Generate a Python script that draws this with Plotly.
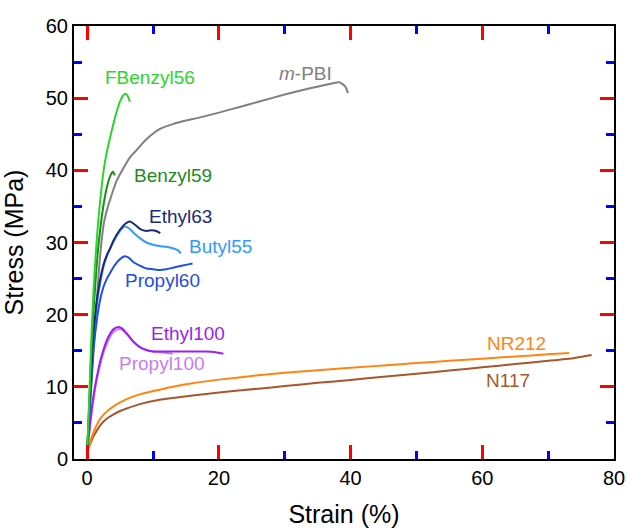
import plotly.graph_objects as go

# ---- data ----
fbenzyl56_x = [0, 0.3, 0.6, 1.0, 1.5, 2.0, 2.5, 3.0, 3.5, 4.0, 4.5, 5.0, 5.5, 5.8, 6.1, 6.5]
fbenzyl56_y = [1, 8, 16, 24, 31, 36, 40, 42.6, 44.6, 46.5, 48.2, 49.6, 50.4, 50.6, 50.4, 49.5]

benzyl59_x = [0, 0.3, 0.6, 1.0, 1.5, 2.0, 2.5, 3.0, 3.5, 3.9, 4.2]
benzyl59_y = [1, 7.5, 14, 21, 27.5, 32, 35.3, 37.7, 39.2, 39.8, 39.3]

mpbi_x = [0, 0.5, 1, 1.5, 2, 2.5, 3, 3.5, 4.5, 5.5, 6.5, 7.5, 9, 11, 13, 15, 17, 20, 23, 26,
          30, 34, 37, 38.3, 39.2, 39.6]
mpbi_y = [1, 8, 15.5, 22.5, 28.5, 32.5, 34.5, 36, 38.6, 40.3, 41.8, 42.8, 44.3, 45.7, 46.4, 46.9,
          47.3, 48.0, 48.75, 49.5, 50.5, 51.4, 52.0, 52.2, 51.6, 50.7]

ethyl63_x = [0, 0.4, 0.9, 1.4, 1.9, 2.5, 3.0, 3.5, 4.0, 5.0, 5.8, 6.5, 7.2, 8.0, 9.0, 9.8, 10.5, 11.1]
ethyl63_y = [1, 8, 16.5, 21.5, 24.5, 27, 28.3, 29.2, 30.3, 31.8, 32.6, 32.9, 32.5, 31.9, 31.6, 31.7, 31.6, 31.3]

butyl55_x = [0, 0.4, 0.9, 1.4, 2.0, 2.5, 3.0, 3.5, 4.0, 5.0, 5.7, 6.3, 7.0, 8.0, 9.0, 10.0, 11.0,
             12.0, 13.0, 13.8, 14.2]
butyl55_y = [1, 8, 16, 21, 24.5, 26.7, 28.1, 29.2, 30.1, 31.6, 32.2, 32.0, 31.4, 30.6, 30.0, 29.7,
             29.5, 29.4, 29.2, 28.9, 28.5]

propyl60_x = [0, 0.5, 1, 1.5, 2, 2.5, 3, 3.5, 4, 5, 5.7, 6.3, 7, 8, 9, 10, 11, 12, 13, 14, 15, 16]
propyl60_y = [1, 9, 15.5, 19.5, 22.2, 23.9, 25, 25.8, 26.6, 27.7, 28.1, 27.9, 27.3, 26.8, 26.4,
              26.3, 26.2, 26.3, 26.5, 26.7, 26.9, 27.1]

ethyl100_x = [0, 0.5, 1, 1.5, 2, 2.5, 3, 3.5, 4, 4.7, 5.3, 6, 7, 8, 9, 10, 12, 14, 16, 18, 19.5, 20.7]
ethyl100_y = [1, 5.5, 9, 11.5, 13.6, 15.2, 16.5, 17.4, 18.0, 18.3, 18.1, 17.4, 16.3, 15.5, 15.1,
              14.9, 14.9, 14.9, 14.9, 14.9, 14.8, 14.6]

propyl100_x = [0, 0.5, 1, 1.5, 2, 2.5, 3, 3.5, 4, 4.8, 5.5, 6.2, 7, 8, 9, 10, 11, 12, 13]
propyl100_y = [1, 5, 8.5, 11.2, 13.2, 14.8, 16, 17, 17.6, 18.0, 17.8, 17.1, 16.2, 15.5, 15.1,
               14.9, 14.8, 14.7, 14.6]

nr212_x = [0, 0.5, 1, 1.5, 2, 3, 4, 5, 6, 8, 11, 13, 16, 20, 26, 30, 35, 40, 45, 50, 55, 60, 65, 70, 73.2]
nr212_y = [1, 2.5, 3.8, 4.8, 5.6, 6.6, 7.3, 7.85, 8.3, 8.95, 9.6, 10.0, 10.5, 11.0, 11.6, 11.95, 12.3,
           12.65, 12.95, 13.3, 13.6, 13.9, 14.2, 14.5, 14.7]

n117_x = [0, 0.5, 1, 1.5, 2, 3, 4, 5, 6, 8, 11, 13, 16, 20, 26, 30, 35, 40, 45, 50, 55, 60, 65, 70, 74, 76.6]
n117_y = [1, 2.2, 3.2, 4.0, 4.7, 5.6, 6.2, 6.65, 7.0, 7.6, 8.2, 8.45, 8.8, 9.2, 9.75, 10.1, 10.55, 10.95,
          11.4, 11.8, 12.25, 12.7, 13.15, 13.6, 14.0, 14.4]

series = [
    ("m-PBI", mpbi_x, mpbi_y, "#808080"),
    ("N117", n117_x, n117_y, "#a8562c"),
    ("NR212", nr212_x, nr212_y, "#ff8412"),
    ("Propyl100", propyl100_x, propyl100_y, "#c97cf2"),
    ("Ethyl100", ethyl100_x, ethyl100_y, "#9a1ff0"),
    ("Propyl60", propyl60_x, propyl60_y, "#1f4fe0"),
    ("Butyl55", butyl55_x, butyl55_y, "#3399ff"),
    ("Ethyl63", ethyl63_x, ethyl63_y, "#1b2878"),
    ("Benzyl59", benzyl59_x, benzyl59_y, "#1a8c1a"),
    ("FBenzyl56", fbenzyl56_x, fbenzyl56_y, "#2bd62b"),
]

label_text = ["FBenzyl56", "<i>m</i>-PBI", "Benzyl59", "Ethyl63", "Butyl55", "Propyl60",
              "Ethyl100", "Propyl100", "NR212", "N117"]
label_x = [9.5, 33.1, 13.1, 14.1, 20.2, 11.5, 15.3, 11.3, 65.2, 63.9]
label_y = [52.9, 53.4, 39.3, 33.6, 29.5, 24.8, 17.4, 13.25, 16.0, 10.9]
label_color = ["#2bd62b", "#808080", "#1a8c1a", "#1b2878", "#3399ff", "#1f4fe0",
               "#9a1ff0", "#c97cf2", "#ff8412", "#a8562c"]

FONT = "Arial, Liberation Sans, sans-serif"

fig = go.Figure()
for name, xs, ys, col in series:
    fig.add_trace(go.Scatter(x=xs, y=ys, mode="lines", name=name,
                             line=dict(color=col, width=2, shape="spline", smoothing=0.6),
                             showlegend=False))

for t, x, y, c in zip(label_text, label_x, label_y, label_color):
    fig.add_annotation(x=x, y=y, text=t, showarrow=False, xanchor="center", yanchor="middle",
                       font=dict(family=FONT, size=19, color=c))

axis_common = dict(showline=True, linewidth=2, linecolor="black", mirror="allticks",
                   ticks="inside", ticklen=14, tickwidth=3, tickcolor="red",
                   showgrid=False, zeroline=False, automargin=False,
                   tickfont=dict(family=FONT, size=20, color="black"))

fig.update_xaxes(range=[-2, 80], tick0=0, dtick=20,
                 minor=dict(ticks="inside", ticklen=8, tickwidth=3, tickcolor="blue", dtick=10, showgrid=False),
                 title=dict(text="Strain (%)", font=dict(family=FONT, size=25, color="black"), standoff=20),
                 **axis_common)
fig.update_yaxes(range=[0, 60], tick0=0, dtick=10,
                 minor=dict(ticks="inside", ticklen=8, tickwidth=3, tickcolor="blue", dtick=5, showgrid=False),
                 title=dict(text="Stress (MPa)", font=dict(family=FONT, size=25, color="black"), standoff=16),
                 **axis_common)

fig.update_layout(template="none", width=628, height=528, margin=dict(l=74, r=14, t=26, b=69),
                  plot_bgcolor="white", paper_bgcolor="white",
                  font=dict(family=FONT))

fig.write_html("out.html")
